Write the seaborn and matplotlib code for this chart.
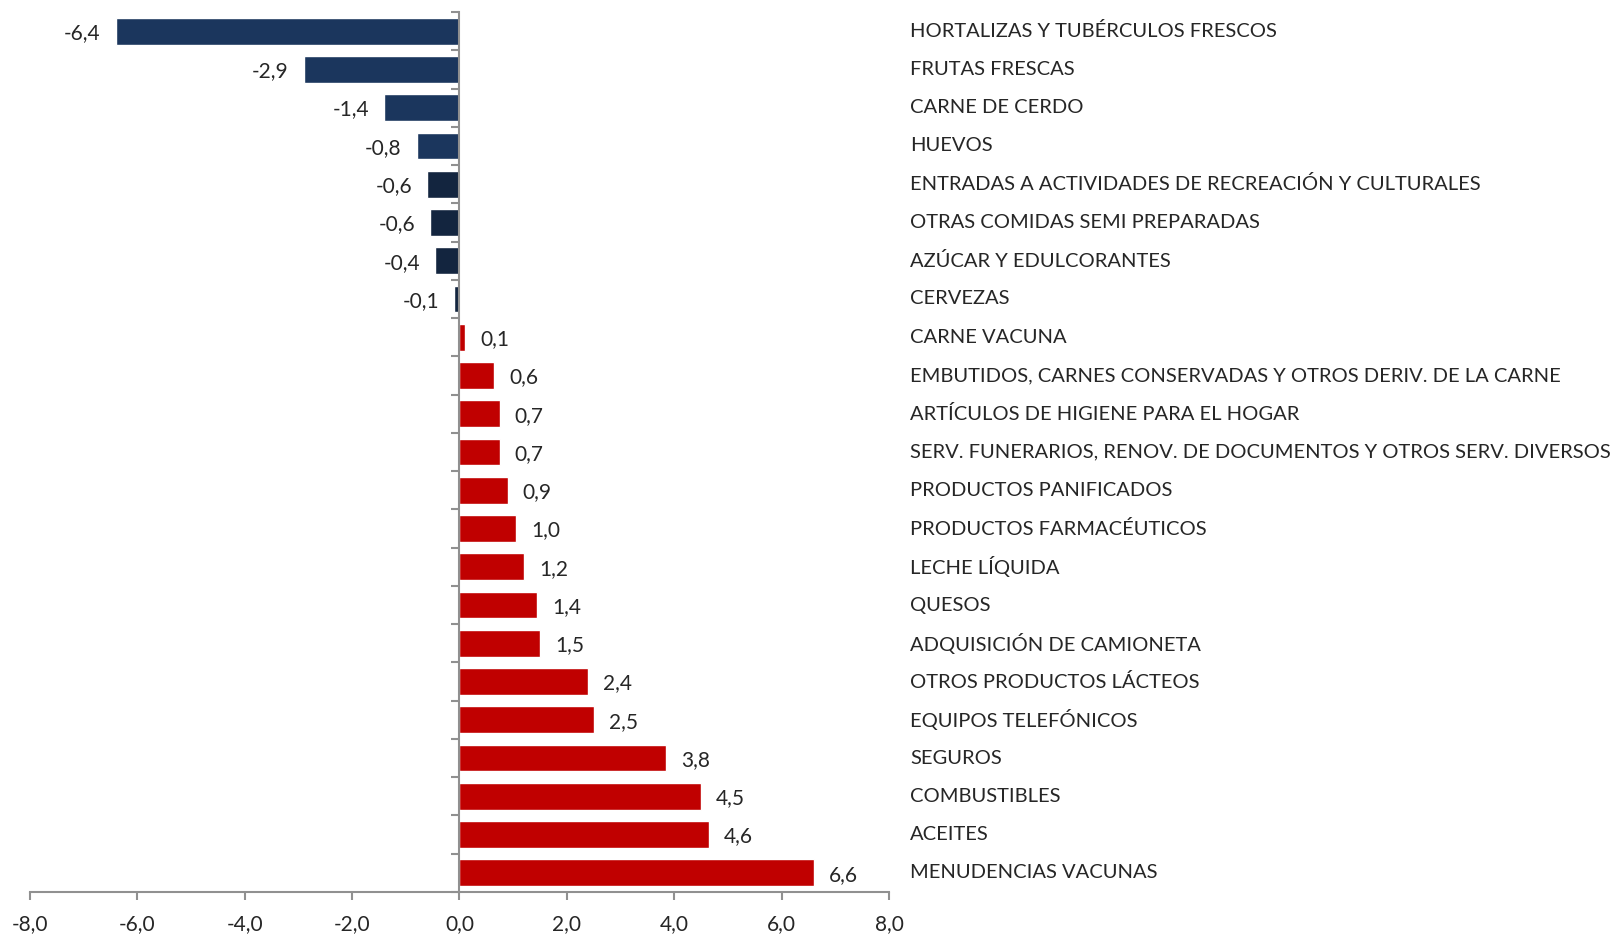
import seaborn as sns
import pandas as pd
import matplotlib.pyplot as plt
import matplotlib.transforms as mtransforms
import numpy as np

categories = [
    "HORTALIZAS Y TUBÉRCULOS FRESCOS",
    "FRUTAS FRESCAS",
    "CARNE DE CERDO",
    "HUEVOS",
    "ENTRADAS A ACTIVIDADES DE RECREACIÓN Y CULTURALES",
    "OTRAS COMIDAS SEMI PREPARADAS",
    "AZÚCAR Y EDULCORANTES",
    "CERVEZAS",
    "CARNE VACUNA",
    "EMBUTIDOS, CARNES CONSERVADAS Y OTROS DERIV. DE LA CARNE",
    "ARTÍCULOS DE HIGIENE PARA EL HOGAR",
    "SERV. FUNERARIOS, RENOV. DE DOCUMENTOS Y OTROS SERV. DIVERSOS",
    "PRODUCTOS PANIFICADOS",
    "PRODUCTOS FARMACÉUTICOS",
    "LECHE LÍQUIDA",
    "QUESOS",
    "ADQUISICIÓN DE CAMIONETA",
    "OTROS PRODUCTOS LÁCTEOS",
    "EQUIPOS TELEFÓNICOS",
    "SEGUROS",
    "COMBUSTIBLES",
    "ACEITES",
    "MENUDENCIAS VACUNAS",
]
values = [-6.4, -2.9, -1.4, -0.8, -0.6, -0.55, -0.45, -0.1, 0.1, 0.65, 0.75,
          0.75, 0.9, 1.05, 1.2, 1.45, 1.5, 2.4, 2.5, 3.85, 4.5, 4.65, 6.6]
labels = ["-6,4", "-2,9", "-1,4", "-0,8", "-0,6", "-0,6", "-0,4", "-0,1",
          "0,1", "0,6", "0,7", "0,7", "0,9", "1,0", "1,2", "1,4", "1,5",
          "2,4", "2,5", "3,8", "4,5", "4,6", "6,6"]
bar_colors = ["#1B365D"] * 4 + ["#13253F"] * 4 + ["#C00000"] * 15

df = pd.DataFrame({"cat": categories, "val": values})

sns.set_style("white")
plt.rcParams['font.family'] = ['Lato', 'DejaVu Sans']

fig = plt.figure(figsize=(16.15, 9.35), dpi=100)
ax = fig.add_axes([30 / 1615, 43 / 935, 859 / 1615, 880 / 935])

sns.barplot(data=df, x="val", y="cat", hue="cat", palette=bar_colors,
            legend=False, width=0.7, ax=ax, orient="h", saturation=1)

ax.set_xlim(-8, 8)
ax.set_ylim(len(categories) - 0.5, -0.5)
ax.set_xticks(np.arange(-8, 9, 2))
ax.set_xticklabels([f"{t:.1f}".replace(".", ",") for t in np.arange(-8, 9, 2)],
                   fontsize=15)
ax.set_yticks(np.arange(-0.5, len(categories), 1))
ax.set_yticklabels([])
ax.set_xlabel("")
ax.set_ylabel("")

for s in ["top", "right"]:
    ax.spines[s].set_visible(False)
ax.spines["left"].set_position(("data", 0))
ax.spines["left"].set_color("#909090")
ax.spines["bottom"].set_color("#909090")
ax.spines["left"].set_linewidth(1.5)
ax.spines["bottom"].set_linewidth(1.5)
ax.tick_params(axis="x", direction="out", length=6, color="#909090",
               width=1.5, bottom=True, pad=10)
ax.tick_params(axis="y", direction="out", length=6, color="#909090",
               width=1.5, left=True)

for i, (v, lab) in enumerate(zip(values, labels)):
    if v < 0:
        ax.text(v - 0.28, i + 0.05, lab, ha="right", va="center", fontsize=15)
    else:
        ax.text(v + 0.28, i + 0.05, lab, ha="left", va="center", fontsize=15)

trans = mtransforms.blended_transform_factory(ax.transAxes, ax.transData)
for i, c in enumerate(categories):
    ax.text(1.0245, i, c, transform=trans, ha="left", va="center",
            fontsize=14.5, clip_on=False)

fig.savefig("out.png", dpi=100)
